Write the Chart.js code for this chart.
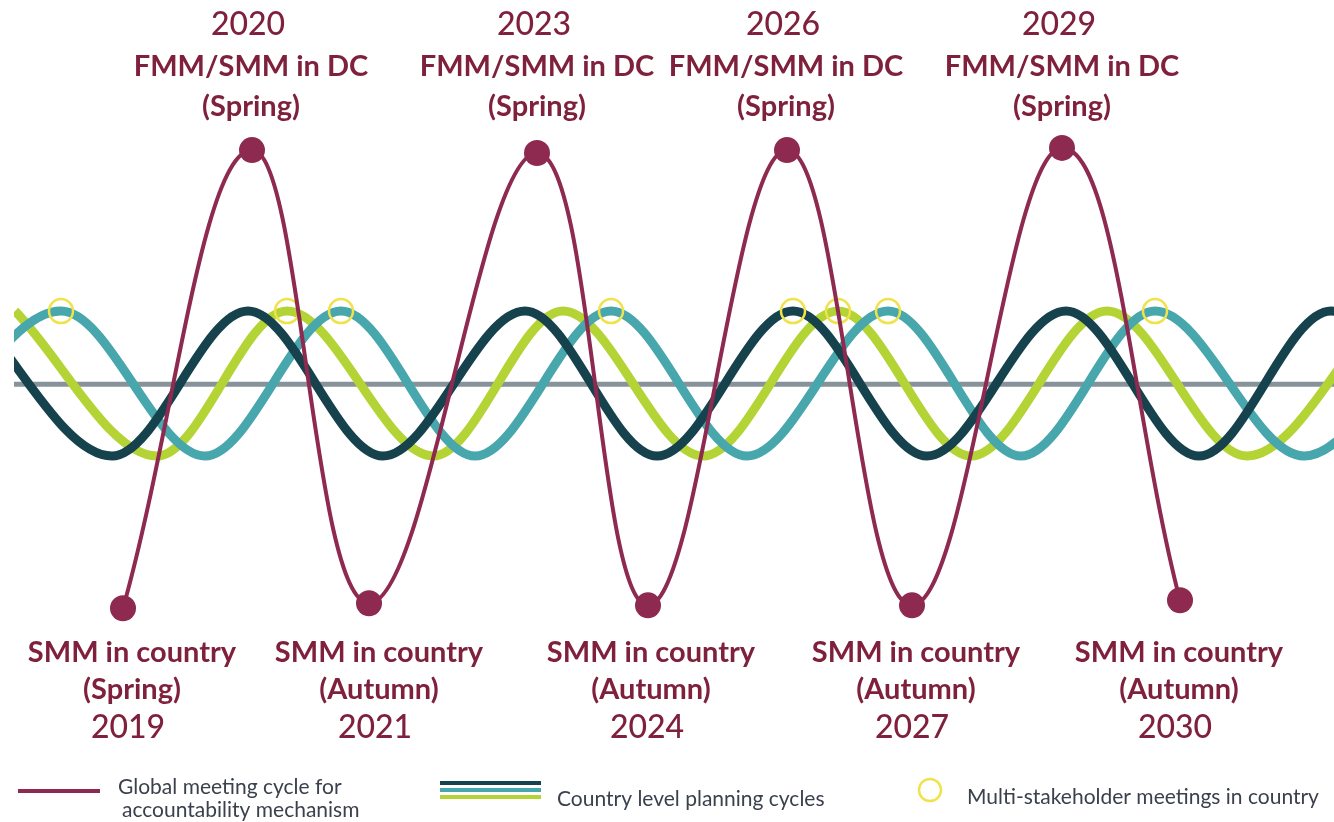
<!DOCTYPE html>
<html>
<head>
<meta charset="utf-8">
<title>Meeting cycles</title>
<script src="https://cdn.jsdelivr.net/npm/chart.js@4.4.1/dist/chart.umd.min.js"></script>
<style>
  html, body { margin: 0; padding: 0; background: #ffffff; }
  #wrap { width: 1334px; height: 822px; }
</style>
</head>
<body>
<div id="wrap"><canvas id="cycles" width="1334" height="822"></canvas></div>
<script>
// x = position along the timeline, y = level (planning waves swing between -1 and 1)
const meetingYears = ["2019", "2020", "2021", "2023", "2024", "2026", "2027", "2029", "2030"];
const meetingPlace = ["SMM in country", "FMM/SMM in DC", "SMM in country", "FMM/SMM in DC", "SMM in country",
  "FMM/SMM in DC", "SMM in country", "FMM/SMM in DC", "SMM in country"];
const meetingSeason = ["(Spring)", "(Spring)", "(Autumn)", "(Spring)", "(Autumn)", "(Spring)", "(Autumn)", "(Spring)", "(Autumn)"];
const meetingX = [123, 252, 369, 537, 648, 787, 912, 1062, 1180];
const meetingLevel = [-3.1, 3.22, -3.03, 3.18, -3.06, 3.22, -3.06, 3.25, -2.99];

// turning points of the three country planning cycles (first and last sit past the edges)
const darkX = [-28, 112, 248, 383, 525, 657, 793, 927, 1066, 1199, 1331, 1466];
const darkLevel = [1, -1, 1, -1, 1, -1, 1, -1, 1, -1, 1, -1];
const limeX = [15, 157, 287, 433, 563, 703, 838, 971, 1107, 1247, 1383];
const limeLevel = [1, -1, 1, -1, 1, -1, 1, -1, 1, -1, 1];
const tealX = [-85, 61, 205, 341, 475, 611, 747, 888, 1021, 1155, 1304, 1440];
const tealLevel = [-1, 1, -1, 1, -1, 1, -1, 1, -1, 1, -1, 1];

// multi-stakeholder meetings sit on wave crests
const stakeholderX = [61, 287, 341, 611, 793, 838, 888, 1155];
const stakeholderLevel = [1, 1, 1, 1, 1, 1, 1, 1];

const baselineX = [0, 1334];
const baselineLevel = [-0.01, -0.01];

const maroon = "#8e2a50";
const textMaroon = "#7f213d";
const navy = "#15424c";
const teal = "#48a6ad";
const lime = "#b4d335";
const grey = "#87939a";
const yellow = "#f0e24a";
const legendText = "#3a404c";

function toPoints(xs, ys) {
  return xs.map((x, i) => ({x: x, y: ys[i]}));
}

const edgeClip = {left: -14, right: 0, top: 0, bottom: 0};

const labelsPlugin = {
  id: "meetingLabels",
  afterDatasetsDraw(chart, args, opts) {
    const ctx = chart.ctx;
    const xs = chart.scales.x;
    ctx.save();
    ctx.textAlign = "center";
    ctx.textBaseline = "middle";
    ctx.fillStyle = textMaroon;
    const yearFont = "500 32px Lato";
    const labelFont = "bold 29px Lato";
    meetingX.forEach((mx, i) => {
      const px = xs.getPixelForValue(mx) + opts.nudge[i];
      if (meetingLevel[i] > 0) {
        const r = opts.topRows;
        ctx.font = yearFont;
        ctx.fillText(meetingYears[i], px - 3, r[0]);
        ctx.font = labelFont;
        ctx.fillText(meetingPlace[i], px, r[1]);
        ctx.fillText(meetingSeason[i], px, r[2]);
      } else {
        const r = opts.bottomRows;
        ctx.font = labelFont;
        ctx.fillText(meetingPlace[i], px, r[0]);
        ctx.fillText(meetingSeason[i], px, r[1]);
        ctx.font = yearFont;
        ctx.fillText(meetingYears[i], px - 4, r[2]);
      }
    });
    ctx.restore();
  }
};

const legendPlugin = {
  id: "cycleLegend",
  afterDraw(chart) {
    const ctx = chart.ctx;
    ctx.save();
    ctx.lineCap = "butt";
    ctx.lineWidth = 4;

    ctx.strokeStyle = maroon;
    ctx.beginPath();
    ctx.moveTo(18, 791);
    ctx.lineTo(100, 791);
    ctx.stroke();

    [[navy, 783], [teal, 790], [lime, 797]].forEach(([c, ly]) => {
      ctx.strokeStyle = c;
      ctx.beginPath();
      ctx.moveTo(440, ly);
      ctx.lineTo(541, ly);
      ctx.stroke();
    });

    ctx.strokeStyle = yellow;
    ctx.lineWidth = 2.5;
    ctx.beginPath();
    ctx.arc(930, 790, 11, 0, Math.PI * 2);
    ctx.stroke();

    ctx.fillStyle = legendText;
    ctx.font = "21px Lato";
    ctx.textAlign = "left";
    ctx.textBaseline = "middle";
    ctx.fillText("Global meeting cycle for", 118, 787);
    ctx.fillText("accountability mechanism", 122, 810);
    ctx.fillText("Country level planning cycles", 557, 799);
    ctx.fillText("Multi-stakeholder meetings in country", 967, 797);
    ctx.restore();
  }
};

new Chart(document.getElementById("cycles"), {
  type: "line",
  data: {
    datasets: [
      {
        label: "Global meeting cycle for accountability mechanism",
        data: toPoints(meetingX, meetingLevel),
        borderColor: maroon,
        borderWidth: 4,
        tension: 0.4,
        pointRadius: 13,
        pointBackgroundColor: maroon,
        pointBorderWidth: 0
      },
      {
        label: "Multi-stakeholder meetings in country",
        type: "scatter",
        data: toPoints(stakeholderX, stakeholderLevel),
        showLine: false,
        pointRadius: 12,
        pointBorderWidth: 2.5,
        pointBorderColor: yellow,
        pointBackgroundColor: "rgba(0,0,0,0)"
      },
      {
        label: "Country planning cycle A",
        data: toPoints(darkX, darkLevel),
        borderColor: navy,
        borderWidth: 9,
        cubicInterpolationMode: "monotone",
        pointRadius: 0,
        clip: edgeClip
      },
      {
        label: "Country planning cycle B",
        data: toPoints(tealX, tealLevel),
        borderColor: teal,
        borderWidth: 9,
        cubicInterpolationMode: "monotone",
        pointRadius: 0,
        clip: edgeClip
      },
      {
        label: "Country planning cycle C",
        data: toPoints(limeX, limeLevel),
        borderColor: lime,
        borderWidth: 9,
        cubicInterpolationMode: "monotone",
        pointRadius: 0,
        clip: edgeClip
      },
      {
        label: "Baseline",
        data: toPoints(baselineX, baselineLevel),
        borderColor: grey,
        borderWidth: 5,
        pointRadius: 0,
        clip: edgeClip
      }
    ]
  },
  options: {
    responsive: false,
    animation: false,
    devicePixelRatio: 1,
    layout: {padding: 0, autoPadding: false},
    scales: {
      x: {type: "linear", min: 0, max: 1334, display: false},
      y: {type: "linear", min: -6.048, max: 5.29, display: false}
    },
    plugins: {
      legend: {display: false},
      tooltip: {enabled: false},
      meetingLabels: {
        nudge: [9, -1, 10, 0, 3, -1, 4, 0, -1],
        topRows: [25, 67, 107],
        bottomRows: [653, 690, 728]
      }
    }
  },
  plugins: [labelsPlugin, legendPlugin]
});
</script>
</body>
</html>
